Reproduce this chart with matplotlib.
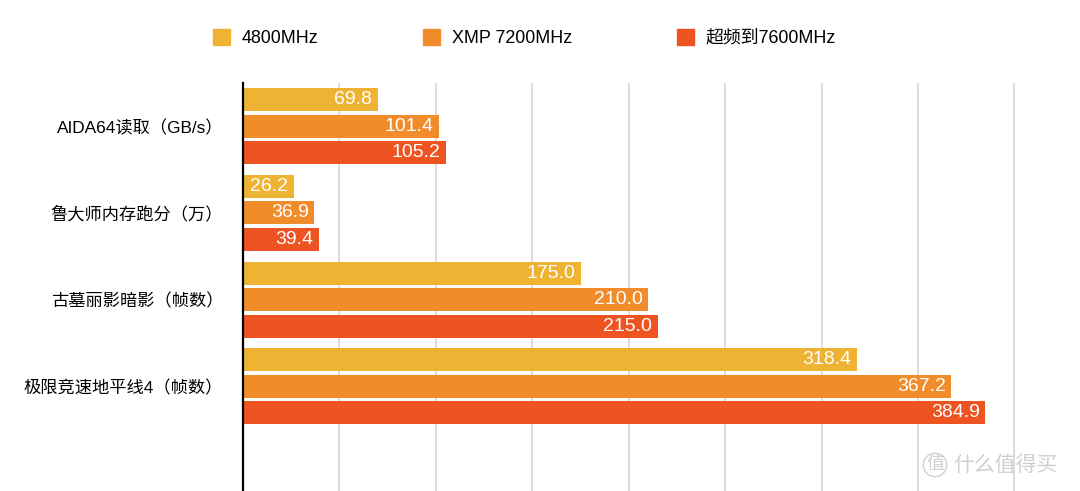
import numpy as np
import matplotlib.pyplot as plt
from matplotlib.patches import Patch

plt.rcParams['font.family'] = ['Liberation Sans', 'Noto Sans CJK SC', 'DejaVu Sans']

# =========================
# DATA
# =========================

categories = ["AIDA64读取（GB/s）", "鲁大师内存跑分（万）", "古墓丽影暗影（帧数）", "极限竞速地平线4（帧数）"]
series_names = ["4800MHz", "XMP 7200MHz", "超频到7600MHz"]
v4800 = [69.8, 26.2, 175.0, 318.4]
vxmp = [101.4, 36.9, 210.0, 367.2]
v7600 = [105.2, 39.4, 215.0, 384.9]

colors = ["#EEB333", "#F08C2A", "#EE5422"]

# =========================
# PLOT
# =========================

fig = plt.figure(figsize=(10.8, 4.91), dpi=100)
ax = fig.add_axes([243 / 1080, 0, 1 - 243 / 1080, 1 - 83 / 491])

y = np.arange(len(categories))
offset = 0.306
height = 0.265

for k, vals in enumerate([v4800, vxmp, v7600]):
    pos = y + (k - 1) * offset
    bars = ax.barh(pos, vals, height=height, color=colors[k], zorder=3)
    for b, v in zip(bars, vals):
        ax.annotate(f"{v:.1f}", (b.get_width(), b.get_y() + b.get_height() / 2),
                    xytext=(-4, 0), textcoords="offset points",
                    ha="right", va="center", color="white", fontsize=14, zorder=4)

ax.set_xlim(0, 434)
ax.set_ylim(4.21, -0.5)
ax.set_xticks(np.arange(50, 450, 50))
ax.xaxis.grid(True, color="#d9d9d9", linewidth=1.3, zorder=0)
ax.tick_params(axis="x", length=0, labelbottom=False)
ax.set_yticks(y)
ax.set_yticklabels(categories, fontsize=12.4)
ax.tick_params(axis="y", length=0, pad=14.3)

for s in ["top", "right", "bottom"]:
    ax.spines[s].set_visible(False)
ax.spines["left"].set_linewidth(1.6)
ax.spines["left"].set_color("black")
ax.spines["left"].set_zorder(5)

handles = [Patch(color=c) for c in colors]
fig.legend(handles, series_names, loc="center left", bbox_to_anchor=(213 / 1080, 1 - 38 / 491),
           ncol=3, frameon=False, fontsize=12.9, handlelength=0.95, handleheight=0.95,
           handletextpad=0.65, columnspacing=5.85, borderpad=0, borderaxespad=0)

# watermark
fig.text(935 / 1080, 1 - 465 / 491, "值", fontsize=13, color="#d0d0d0", ha="center", va="center",
         bbox=dict(boxstyle="circle,pad=0.15", fc="none", ec="#d0d0d0", lw=1))
fig.text(953 / 1080, 1 - 465 / 491, "什么值得买", fontsize=15, color="#d0d0d0", ha="left", va="center")

fig.savefig("out.png", dpi=100)
